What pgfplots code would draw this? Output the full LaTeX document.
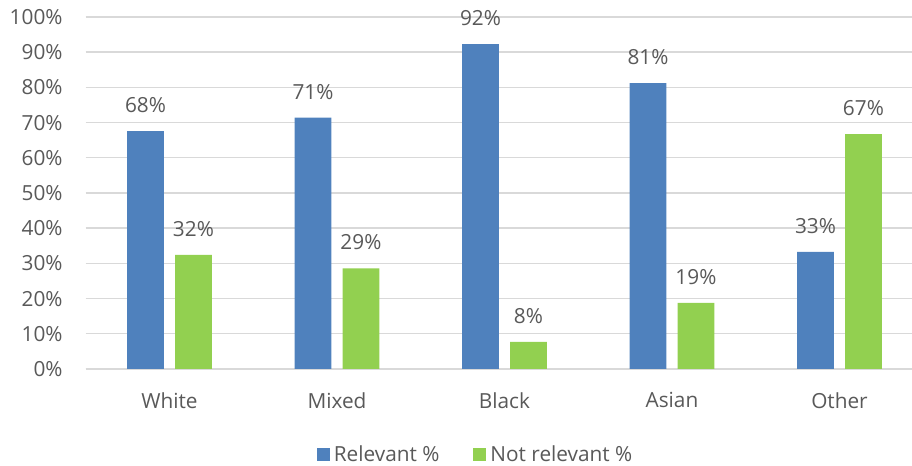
\documentclass[border=0pt]{standalone}
\usepackage{pgfplots}
\pgfplotsset{compat=1.18}
\usepackage{fontspec}
\setmainfont{Open Sans}
\definecolor{cblue}{HTML}{4F81BD}
\definecolor{cgreen}{HTML}{92D050}
\definecolor{ctext}{HTML}{595959}
\definecolor{cgrid}{HTML}{D9D9D9}
\begin{document}
\begin{tikzpicture}
\path[use as bounding box] (0pt,0pt) rectangle (456pt,233pt);
\begin{axis}[
  at={(42.875pt,48.5pt)}, anchor=south west,
  scale only axis, width=413.125pt, height=176pt,
  xmin=-0.5, xmax=4.433, ymin=0, ymax=100,
  ybar,
  xtick={0,1,2,3,4}, xticklabels={White,Mixed,Black,Asian,Other},
  ytick={0,10,...,100},
  /pgf/number format/assume math mode=true,
  yticklabel={\pgfmathprintnumber{\tick}\%},
  axis x line*=bottom, axis y line*=left,
  x axis line style={cgrid, line width=0.7pt},
  y axis line style={draw=none},
  major tick length=0pt,
  ymajorgrids, grid style={cgrid, line width=0.7pt},
  tick label style={font=\fontsize{10.4}{12}\selectfont, text=ctext},
  yticklabel style={anchor=east, inner sep=0pt, xshift=-11.4pt},
  xticklabel style={anchor=north, inner sep=0pt, yshift=-11.5pt},
  bar width=0.22,
  nodes near coords={\pgfmathprintnumber[fixed,precision=0]{\pgfplotspointmeta}\%},
  every node near coord/.append style={font=\fontsize{10.4}{12}\selectfont, text=ctext, anchor=base, inner sep=0pt, yshift=9.3pt},
  legend style={at={(0.473,-0.244)}, anchor=center, draw=none, legend columns=2,
    font=\fontsize{10.4}{12}\selectfont, text=ctext,
    /tikz/every even column/.append style={column sep=15pt}},
  legend cell align=left,
]
\addplot[fill=cblue, draw=none, bar shift=-0.143,
  legend image code/.code={\fill[cblue] (0pt,-3.25pt) rectangle (6.5pt,3.25pt);}]
  coordinates {(0,67.6) (1,71.4) (2,92.3) (3,81.2) (4,33.3)};
\addlegendentry{Relevant \%}
\addplot[fill=cgreen, draw=none, bar shift=0.143,
  legend image code/.code={\fill[cgreen] (0pt,-3.25pt) rectangle (6.5pt,3.25pt);}]
  coordinates {(0,32.4) (1,28.6) (2,7.7) (3,18.8) (4,66.7)};
\addlegendentry{Not relevant \%}
\end{axis}
\end{tikzpicture}
\end{document}
